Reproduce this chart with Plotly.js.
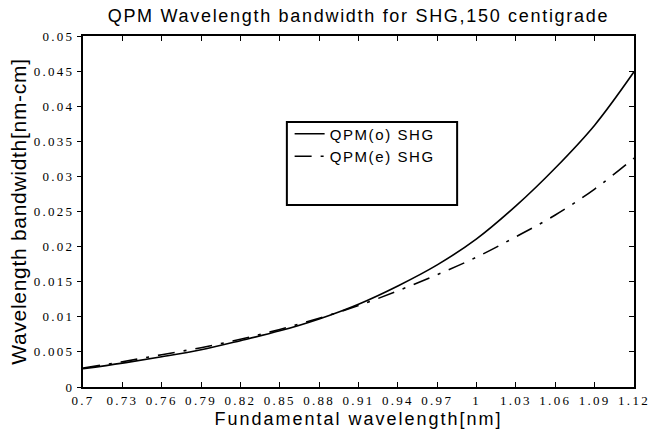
<!DOCTYPE html>
<html>
<head>
<meta charset="utf-8">
<script src="https://cdn.plot.ly/plotly-3.0.1.min.js"></script>
<style>html,body{margin:0;padding:0;background:#fff}#chart{width:670px;height:437px}</style>
</head>
<body>
<div id="chart"></div>
<script>
const wavelength = [0.70, 0.73, 0.76, 0.79, 0.82, 0.85, 0.88, 0.91, 0.94, 0.97, 1.00, 1.03, 1.06, 1.09, 1.12];
const qpmO = [0.0026, 0.0034, 0.0043, 0.0053, 0.0066, 0.0080, 0.0097, 0.0118, 0.0144, 0.0174, 0.0211, 0.0258, 0.0312, 0.0373, 0.0449];
const qpmE = [0.0027, 0.0036, 0.0046, 0.0056, 0.0068, 0.0082, 0.0098, 0.0116, 0.0137, 0.0160, 0.0185, 0.0214, 0.0245, 0.0282, 0.0326];
const seriesNames = ['QPM(o) SHG', 'QPM(e) SHG'];
const xTickVals = [0.7, 0.73, 0.76, 0.79, 0.82, 0.85, 0.88, 0.91, 0.94, 0.97, 1.0, 1.03, 1.06, 1.09, 1.12];
const xTickText = ['0.7', '0.73', '0.76', '0.79', '0.82', '0.85', '0.88', '0.91', '0.94', '0.97', '1', '1.03', '1.06', '1.09', '1.12'];
const yTickVals = [0, 0.005, 0.01, 0.015, 0.02, 0.025, 0.03, 0.035, 0.04, 0.045, 0.05];
const yTickText = ['0', '0.005', '0.01', '0.015', '0.02', '0.025', '0.03', '0.035', '0.04', '0.045', '0.05'];
const titleText = 'QPM Wavelength bandwidth for SHG,150 centigrade';
const xTitle = 'Fundamental wavelength[nm]';
const yTitle = 'Wavelength bandwidth[nm-cm]';

const sp = (t, ls) => '<span style="letter-spacing:' + ls + 'px">' + t + '</span>';
const sans = 'Liberation Sans, Arial, sans-serif';
const serif = 'Liberation Serif, Times New Roman, serif';

const traces = [
  {x: wavelength, y: qpmO, name: sp(seriesNames[0], 1.6), mode: 'lines', type: 'scatter',
   line: {color: '#000', width: 1.6, shape: 'spline', smoothing: 1}},
  {x: wavelength, y: qpmE, name: sp(seriesNames[1], 1.6), mode: 'lines', type: 'scatter',
   line: {color: '#000', width: 1.6, shape: 'spline', smoothing: 1, dash: '17px,9px,3px,9px'}},
  {x: [], y: [], yaxis: 'y2', showlegend: false, hoverinfo: 'skip', type: 'scatter'}
];

const layout = {
  width: 670, height: 437,
  margin: {l: 83, r: 36, t: 36, b: 50, pad: 0},
  paper_bgcolor: '#fff', plot_bgcolor: '#fff',
  title: {text: sp(titleText, 1.7), font: {family: sans, size: 18, color: '#000'}, x: 0.535, xanchor: 'center', y: 0.965, yanchor: 'middle'},
  showlegend: true,
  legend: {x: 0.375, y: 0.768, xanchor: 'left', yanchor: 'top', bgcolor: 'rgba(0,0,0,0)', borderwidth: 0,
    font: {family: sans, size: 15, color: '#000'}, tracegroupgap: 0},
  shapes: [{type: 'rect', xref: 'paper', yref: 'paper', x0: 0.370, x1: 0.679, y0: 0.5185, y1: 0.755,
    line: {color: '#000', width: 2}, fillcolor: 'rgba(0,0,0,0)'}],
  xaxis: {range: [0.7, 1.12], tickvals: xTickVals, ticktext: xTickText.map(t => sp(t, 2.3)), ticks: 'inside', ticklen: 5, tickwidth: 1,
    tickcolor: '#000', showline: true, linewidth: 2, linecolor: '#000', mirror: 'ticks', showgrid: false, zeroline: false,
    tickfont: {family: serif, size: 13, color: '#000'},
    title: {text: sp(xTitle, 2), font: {family: sans, size: 18, color: '#000'}, standoff: 6}},
  yaxis: {range: [0, 0.05], tickvals: yTickVals, ticktext: yTickText.map(t => sp(t, 2.3)), ticks: 'outside', ticklen: 4, tickwidth: 1,
    tickcolor: '#000', showline: true, linewidth: 2, linecolor: '#000', mirror: true, showgrid: false, zeroline: false,
    tickfont: {family: serif, size: 13, color: '#000'},
    title: {text: sp(yTitle, 0.7), font: {family: sans, size: 21, color: '#000'}, standoff: 1}},
  yaxis2: {range: [0, 0.05], overlaying: 'y', side: 'right', tickvals: yTickVals, ticks: 'inside', ticklen: 5, tickwidth: 1,
    tickcolor: '#000', showticklabels: false, showline: false, showgrid: false, zeroline: false}
};

Plotly.newPlot('chart', traces, layout, {displayModeBar: false, staticPlot: true});
</script>
</body>
</html>
